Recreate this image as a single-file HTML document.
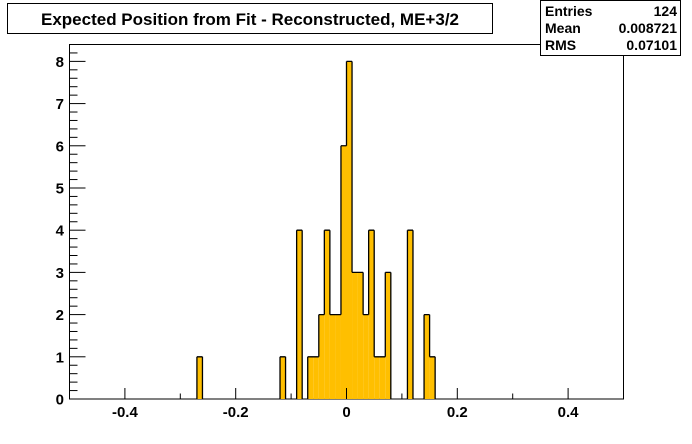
<!DOCTYPE html>
<html><head><meta charset="utf-8"><style>
body{margin:0;background:#fff;}
svg{display:block;font-family:"Liberation Sans",Arial,sans-serif;font-weight:bold;}
</style></head><body>
<svg id="chart" width="692" height="444" viewBox="0 0 692 444">
<rect x="0" y="0" width="692" height="444" fill="#fff"/>
<rect x="69.5" y="44.5" width="554" height="354.5" fill="#fff" stroke="#000" stroke-width="1"/>
<g id="bars"></g>
<g id="axes"></g>
<rect x="7.5" y="3.5" width="485" height="30" fill="#fff" stroke="#000"/>
<text x="250" y="25" font-size="17" text-anchor="middle">Expected Position from Fit - Reconstructed, ME+3/2</text>
<rect x="540.5" y="0.5" width="140" height="55" fill="#fff" stroke="#000"/>
<g font-size="14">
<text x="545" y="16">Entries</text>
<text x="677" y="16" text-anchor="end">124</text>
<text x="545" y="33">Mean</text>
<text x="677" y="33" text-anchor="end">0.008721</text>
<text x="545" y="50">RMS</text>
<text x="677" y="50" text-anchor="end">0.07101</text>
</g>
</svg>
<script>
const binLows = [-0.27,-0.12,-0.09,-0.07,-0.06,-0.05,-0.04,-0.03,-0.02,-0.01,0.00,0.01,0.02,0.03,0.04,0.05,0.06,0.07,0.11,0.14,0.15];
const counts  = [1,1,4,1,1,2,4,2,2,6,8,3,3,2,4,1,1,3,4,2,1];
const binWidth = 0.01;
const xTicks = [-0.4,-0.2,0,0.2,0.4];
const xTickLabels = ["-0.4","-0.2","0","0.2","0.4"];
const yTicks = [0,1,2,3,4,5,6,7,8];
const NS="http://www.w3.org/2000/svg";
const X0=69.5,X1=623.5,Y0=399,YT=44.5;
const xMin=-0.5,xMax=0.5,yMax=8.4;
function sx(v){return X0+(v-xMin)/(xMax-xMin)*(X1-X0);}
function sy(v){return Y0-v/yMax*(Y0-YT);}
function mk(t,a,p){const e=document.createElementNS(NS,t);for(const k in a)e.setAttribute(k,a[k]);p.appendChild(e);return e;}
const bars=document.getElementById('bars');
// filled bars
binLows.forEach((lo,i)=>{
  const r=mk('rect',{x:sx(lo),y:sy(counts[i]),width:sx(lo+binWidth)-sx(lo),height:Y0-sy(counts[i]),fill:'#ffbf00'},bars);
  
  
});
// outline path (histogram step)
let map={};binLows.forEach((lo,i)=>{map[Math.round(lo*100)]=counts[i];});
let d='';let prev=0;
for(let b=-50;b<=50;b++){
  const c=b<50?(map[b]||0):0;
  const x=sx(b/100);
  if(c!==prev){d+=`M${x},${sy(prev)}L${x},${sy(c)}`;}
  if(c>0){d+=`M${x},${sy(c)}L${sx((b+1)/100)},${sy(c)}`;}
  prev=c;
}
const outline=mk('path',{d:d,stroke:'#000','stroke-width':1.3,fill:'none'},bars);


const axes=document.getElementById('axes');
// x ticks
for(let k=-5;k<=5;k++){
  const v=k/10;const major=(k%2===0);
  const x=sx(v);
  const t=mk('line',{x1:x,x2:x,y1:Y0,y2:Y0-(major?11:5.5),stroke:'#000'},axes);
  
  
}
xTicks.forEach((v,i)=>{
  const t=mk('text',{x:sx(v),y:417,'font-size':15,'text-anchor':'middle'},axes);
  t.textContent=xTickLabels[i];
  
  
});
// y ticks
for(let k=0;k<=42;k++){
  const v=k/5;if(v>yMax)break;
  const major=(k%5===0);const y=sy(v);
  const t=mk('line',{x1:X0,x2:X0+(major?16:8),y1:y,y2:y,stroke:'#000'},axes);
  
  
}
yTicks.forEach(v=>{
  const t=mk('text',{x:64,y:sy(v)+5.5,'font-size':15,'text-anchor':'end'},axes);
  t.textContent=String(v);
  
  
});
</script>
</body></html>
